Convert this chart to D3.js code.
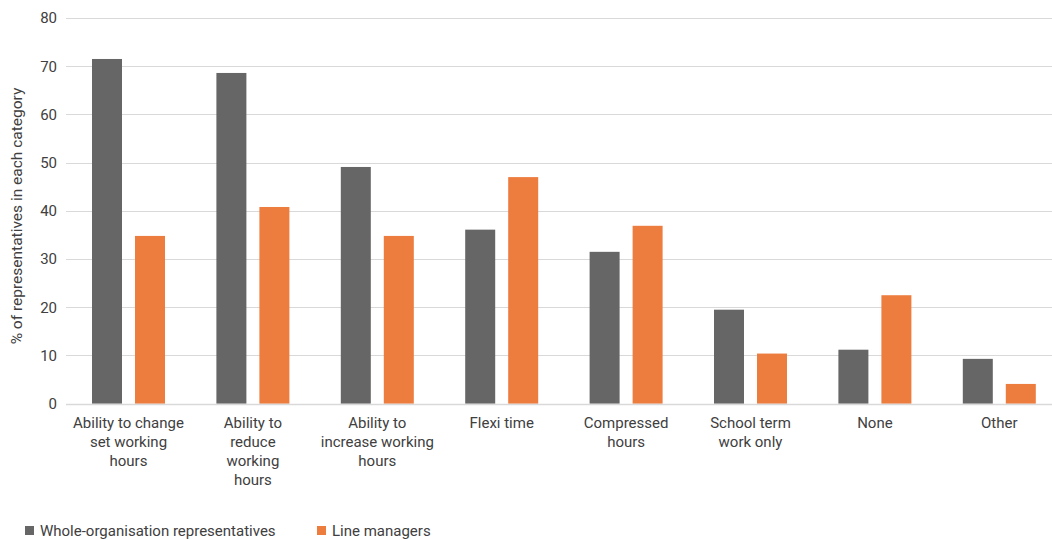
<!DOCTYPE html>
<html><head><meta charset="utf-8">
<script src="https://cdn.jsdelivr.net/npm/d3@7"></script>
<style>
body{margin:0;background:#fff;}
svg text{font-family:Roboto, "Open Sans", sans-serif;fill:#404040;}
</style></head>
<body><svg id="c" width="1052" height="540"></svg>
<script>
const categories = [
  ["Ability to change","set working","hours"],
  ["Ability to","reduce","working","hours"],
  ["Ability to","increase working","hours"],
  ["Flexi time"],
  ["Compressed","hours"],
  ["School term","work only"],
  ["None"],
  ["Other"]
];
const seriesNames = ["Whole-organisation representatives","Line managers"];
const wholeOrg = [71.5, 68.6, 49.1, 36.1, 31.5, 19.5, 11.2, 9.3];
const lineManagers = [34.8, 40.8, 34.8, 47.0, 36.9, 10.4, 22.5, 4.1];
const yTicks = [0,10,20,30,40,50,60,70,80];
const colors = ["#666666","#ED7D3F"];
const yTitle = "% of representatives in each category";

const svg = d3.select("#c");
const x = d3.scaleBand().domain(d3.range(categories.length)).range([66.3, 1061.5]).padding(0);
const y = d3.scaleLinear().domain([0,80]).range([403.7, 18]);

// gridlines
svg.append("g").selectAll("line").data(yTicks).join("line")
  .attr("x1",66).attr("x2",1061)
  .attr("y1",d=>Math.round(y(d))+0.5).attr("y2",d=>Math.round(y(d))+0.5)
  .attr("stroke","#d9d9d9").attr("stroke-width",1);

// y tick labels
const yAxis = d3.axisLeft(y).tickValues(yTicks).tickSize(0).tickPadding(0);
const ya = svg.append("g").attr("transform","translate(57,0)").call(yAxis);
ya.select(".domain").remove();
ya.selectAll("text").attr("font-size",15).attr("fill","#404040").attr("font-family","Roboto, sans-serif");

// bars
const barW = 30, gap = 13;
const series = [wholeOrg, lineManagers];
series.forEach((vals,si)=>{
  svg.append("g").selectAll("rect").data(vals).join("rect")
    .attr("x",(d,i)=> x(i) + x.bandwidth()/2 - (barW*2+gap)/2 + si*(barW+gap))
    .attr("width",barW)
    .attr("y",d=>y(d)).attr("height",d=>y(0)-y(d))
    .attr("fill",colors[si]);
});

// baseline
svg.append("line").attr("x1",66).attr("x2",1061).attr("y1",404.5).attr("y2",404.5)
  .attr("stroke","#d9d9d9").attr("stroke-width",1.5);

// category labels
const cl = svg.append("g");
categories.forEach((lines,i)=>{
  const t = cl.append("text").attr("text-anchor","middle").attr("font-size",15)
    .attr("x", x(i)+x.bandwidth()/2);
  lines.forEach((ln,j)=>{
    t.append("tspan").attr("x", x(i)+x.bandwidth()/2).attr("y", 428 + j*19).text(ln);
  });
});

// y title
svg.append("text").attr("transform","translate(22,216) rotate(-90)")
  .attr("text-anchor","middle").attr("font-size",15.5).text(yTitle);

// legend
const legX = [25, 317];
seriesNames.forEach((n,i)=>{
  svg.append("rect").attr("x",legX[i]).attr("y",526).attr("width",9).attr("height",9).attr("fill",colors[i]);
  svg.append("text").attr("x",legX[i]+15).attr("y",536).attr("font-size",15).text(n);
});
</script></body></html>
